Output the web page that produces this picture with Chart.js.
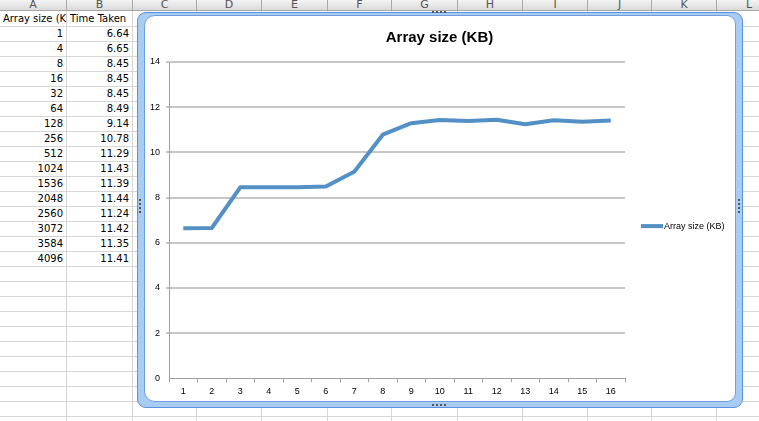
<!DOCTYPE html>
<html>
<head>
<meta charset="utf-8">
<script src="https://cdn.jsdelivr.net/npm/chart.js@4.4.1/dist/chart.umd.min.js"></script>
<style>
  html, body { margin: 0; padding: 0; background: #fff; }
  body { width: 759px; height: 421px; position: relative; overflow: hidden; font-family: "DejaVu Sans", sans-serif; }
  .hdr { position: absolute; top: 0; height: 11px; background: linear-gradient(#f4f4f4, #dadada); border-bottom: 1px solid #a8a8a8; box-sizing: border-box; }
  .hcol { position: absolute; top: 0; height: 11px; box-sizing: border-box; border-right: 1px solid #a8a8a8; color: #555; font-size: 11px; line-height: 9px; text-align: center; overflow: hidden; }
  .vline { position: absolute; top: 11px; width: 1px; height: 410px; background: #d6d6d6; }
  .hline { position: absolute; left: 0; height: 1px; width: 759px; background: #d6d6d6; }
  .cell { position: absolute; height: 15px; line-height: 15px; font-size: 10px; color: #000; white-space: nowrap; overflow: hidden; box-sizing: border-box; }
  .frame { position: absolute; left: 137px; top: 12px; width: 606px; height: 396px; box-sizing: border-box; background: #a9cdf2; border: 1px solid #5b8fe0; border-radius: 9px; }
  .inner { position: absolute; left: 144px; top: 15px; width: 592px; height: 387px; box-sizing: border-box; background: #fff; border: 1px solid #6f9de4; border-radius: 11px 9px 9px 11px; }
  #chart { position: absolute; left: 144px; top: 16px; }
  .dots { position: absolute; border-top: 2px dotted #555; height: 0; }
  .vdots { position: absolute; border-left: 2px dotted #555; width: 0; }
</style>
</head>
<body>
<canvas id="chart" width="591" height="385"></canvas>
<script>
// sheet contents
const colLetters = ["A", "B", "C", "D", "E", "F", "G", "H", "I", "J", "K", "L"];
const sizeHeader = "Array size (KB)";
const timeHeader = "Time Taken";
const arraySizes = [1, 4, 8, 16, 32, 64, 128, 256, 512, 1024, 1536, 2048, 2560, 3072, 3584, 4096];
const timeTaken = [6.64, 6.65, 8.45, 8.45, 8.45, 8.49, 9.14, 10.78, 11.29, 11.43, 11.39, 11.44, 11.24, 11.42, 11.35, 11.41];

// chart contents
const chartTitle = "Array size (KB)";
const seriesLabel = "Array size (KB)";
const categories = ["1", "2", "3", "4", "5", "6", "7", "8", "9", "10", "11", "12", "13", "14", "15", "16"];
const seriesValues = timeTaken;
const yTicks = [0, 2, 4, 6, 8, 10, 12, 14];

// sheet layout
const colEdges = [0, 67, 133, 197, 262, 328, 392, 458, 523, 588, 652, 717, 782];
const headerH = 11;
const rowH = 15;

function el(cls, css, text) {
  const d = document.createElement("div");
  d.className = cls;
  Object.assign(d.style, css);
  if (text !== undefined) d.textContent = text;
  document.body.insertBefore(d, document.getElementById("chart"));
  return d;
}

// grid lines
for (let y = headerH + rowH; y < 421; y += rowH) el("hline", { top: y + "px" });
colEdges.slice(1, -1).forEach((x) => el("vline", { left: x - 1 + "px" }));

// column header strip
el("hdr", { left: "0px", width: "759px" });
colLetters.forEach((c, i) => {
  el("hcol", { left: colEdges[i] + "px", width: colEdges[i + 1] - colEdges[i] + "px" }, c);
});

// header row + values
el("cell", { left: "3px", top: headerH + "px", width: "64px" }, sizeHeader);
el("cell", { left: "70px", top: headerH + "px", width: "63px" }, timeHeader);
arraySizes.forEach((v, i) => {
  const top = headerH + rowH * (i + 1) + "px";
  el("cell", { left: "0px", top, width: "63px", textAlign: "right" }, String(v));
  el("cell", { left: "67px", top, width: "62px", textAlign: "right" }, timeTaken[i].toFixed(2));
});

// chart frame
el("frame", {});
el("inner", {});
el("dots", { left: "432px", top: "11px", width: "14px" });
el("dots", { left: "432px", top: "404px", width: "14px" });
el("vdots", { left: "738px", top: "199px", height: "14px" });
el("vdots", { left: "139px", top: "199px", height: "14px" });

const lineColor = "#5290c6";
const tickFont = { family: "Liberation Sans", size: 9 };

// legend drawn beside the plot, Excel style
const sideLegend = {
  id: "sideLegend",
  afterDraw(chart) {
    const { ctx, chartArea } = chart;
    const ds = chart.data.datasets[0];
    const y = (chartArea.top + chartArea.bottom) / 2 + 6;
    const x0 = chartArea.right + 16;
    ctx.save();
    ctx.strokeStyle = ds.borderColor;
    ctx.lineWidth = 4;
    ctx.beginPath();
    ctx.moveTo(x0, y);
    ctx.lineTo(x0 + 22, y);
    ctx.stroke();
    ctx.fillStyle = "#000";
    ctx.font = "9px 'Liberation Sans'";
    ctx.textBaseline = "middle";
    ctx.fillText(ds.label, x0 + 23, y);
    ctx.restore();
  },
};

new Chart(document.getElementById("chart").getContext("2d"), {
  type: "line",
  data: {
    labels: categories,
    datasets: [
      {
        label: seriesLabel,
        data: seriesValues,
        borderColor: lineColor,
        backgroundColor: lineColor,
        borderWidth: 4,
        pointRadius: 0,
        tension: 0,
        borderJoinStyle: "round",
      },
    ],
  },
  options: {
    responsive: false,
    animation: false,
    layout: { padding: { left: 0, right: 0, top: 0, bottom: 0 } },
    plugins: {
      legend: { display: false },
      tooltip: { enabled: false },
      title: {
        display: true,
        text: chartTitle,
        color: "#000",
        font: { family: "Liberation Sans", size: 15, weight: "bold" },
        padding: { top: 13, bottom: 15 },
      },
    },
    scales: {
      x: {
        type: "category",
        offset: true,
        grid: { display: true, drawOnChartArea: false, drawTicks: true, tickLength: 4, offset: true, color: "#a0a0a0" },
        border: { display: true, color: "#a0a0a0", width: 1 },
        ticks: { font: tickFont, color: "#000", padding: 4, maxRotation: 0, autoSkip: false },
      },
      y: {
        min: yTicks[0],
        max: yTicks[yTicks.length - 1],
        afterBuildTicks: (scale) => {
          scale.ticks = yTicks.map((v) => ({ value: v }));
        },
        afterFit: (scale) => {
          scale.width = 25;
        },
        grid: {
          color: (c) => (c.tick && c.tick.value === 0 ? "rgba(0,0,0,0)" : "#c6c6c6"),
          lineWidth: 2,
          tickLength: 3,
        },
        border: { display: true, color: "#a0a0a0", width: 1 },
        ticks: { font: tickFont, color: "#000", padding: 6 },
      },
      // empty right-hand box that reserves room for the legend
      legendSpace: {
        type: "linear",
        position: "right",
        display: true,
        grid: { display: false },
        border: { display: false },
        ticks: { display: false },
        afterFit: (scale) => {
          scale.width = 110;
        },
      },
    },
  },
  plugins: [sideLegend],
});
</script>
</body>
</html>
